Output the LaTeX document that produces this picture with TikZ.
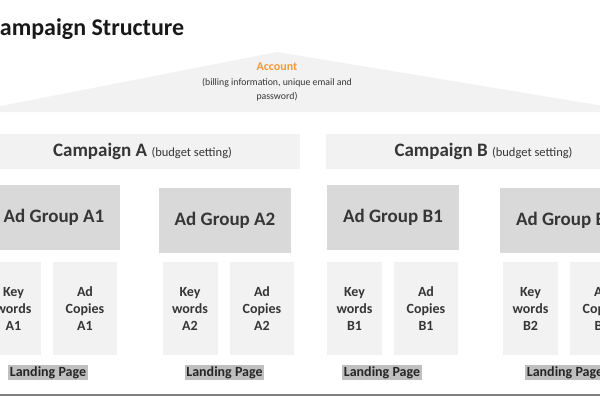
\documentclass[tikz,border=0pt]{standalone}
\usepackage{fontspec}
\setmainfont{Carlito}

\definecolor{textgray}{HTML}{363636}
\definecolor{paleshade}{HTML}{F2F2F2}
\definecolor{groupshade}{HTML}{D9D9D9}
\definecolor{landshade}{HTML}{BFBFBF}
\definecolor{accountorange}{HTML}{F39A3B}

\tikzset{
  campaignbar/.style={fill=paleshade, inner sep=0pt, minimum width=315pt, minimum height=35pt, text=textgray, font=\bfseries\fontsize{19}{21}\selectfont},
  groupbox/.style={fill=groupshade, inner sep=0pt, minimum width=132pt, minimum height=65pt, text=textgray, font=\bfseries\fontsize{19}{22}\selectfont},
  leafbox/.style={fill=paleshade, inner sep=0pt, minimum height=93pt, align=center, text=textgray, font=\bfseries\fontsize{14}{17}\selectfont},
  landing/.style={fill=landshade, inner sep=1.5pt, text=black!85, font=\bfseries\fontsize{14}{16}\selectfont}
}

\begin{document}
\begin{tikzpicture}[x=1pt,y=-1pt]
   \useasboundingbox (0,0) rectangle (600,400);
   \clip (0,0) rectangle (600,400);
   \node (title) at (-13,35) [anchor=base west, inner sep=0pt, font=\bfseries\fontsize{24}{28}\selectfont, text=black!90] {Campaign Structure};
   % account roof
   \fill[paleshade] (-30,112) -- (277,52) -- (640,112) -- cycle;
   \node (account) at (277,67) [font=\bfseries\fontsize{12}{14}\selectfont, text=accountorange] {Account};
   \node (billing) at (277,90) [align=center, font=\fontsize{9.8}{14}\selectfont, text=textgray] {(billing information, unique email and\\password)};
   % campaigns
   \node (campA) at (142.5,151) [campaignbar] {Campaign A {\mdseries\fontsize{12.5}{14}\selectfont(budget setting)}};
   \node (campB) at (483.5,151) [campaignbar] {Campaign B {\mdseries\fontsize{12.5}{14}\selectfont(budget setting)}};
   % ad groups
   \node (groupA1) at (54,217.5) [groupbox] {Ad Group A1};
   \node (groupA2) at (225,220.5) [groupbox] {Ad Group A2};
   \node (groupB1) at (393,217.5) [groupbox] {Ad Group B1};
   \node (groupB2) at (566,220.5) [groupbox] {Ad Group B2};
   % keywords and ad copies
   \node (keysA1) at (13.5,308.5) [leafbox, minimum width=55pt] {Key\\words\\A1};
   \node (copyA1) at (85,308.5) [leafbox, minimum width=64pt] {Ad\\Copies\\A1};
   \node (keysA2) at (190,308.5) [leafbox, minimum width=55pt] {Key\\words\\A2};
   \node (copyA2) at (262,308.5) [leafbox, minimum width=64pt] {Ad\\Copies\\A2};
   \node (keysB1) at (354.5,308.5) [leafbox, minimum width=55pt] {Key\\words\\B1};
   \node (copyB1) at (426,308.5) [leafbox, minimum width=64pt] {Ad\\Copies\\B1};
   \node (keysB2) at (530.5,308.5) [leafbox, minimum width=55pt] {Key\\words\\B2};
   \node (copyB2) at (602,308.5) [leafbox, minimum width=64pt] {Ad\\Copies\\B2};
   % landing pages
   \node (landA1) at (48,372.5) [landing] {Landing Page};
   \node (landA2) at (224.5,372.5) [landing] {Landing Page};
   \node (landB1) at (382,372.5) [landing] {Landing Page};
   \node (landB2) at (565,372.5) [landing] {Landing Page};
   \draw[black!50, line width=2pt] (0,394.5) -- (600,394.5);
\end{tikzpicture}
\end{document}
